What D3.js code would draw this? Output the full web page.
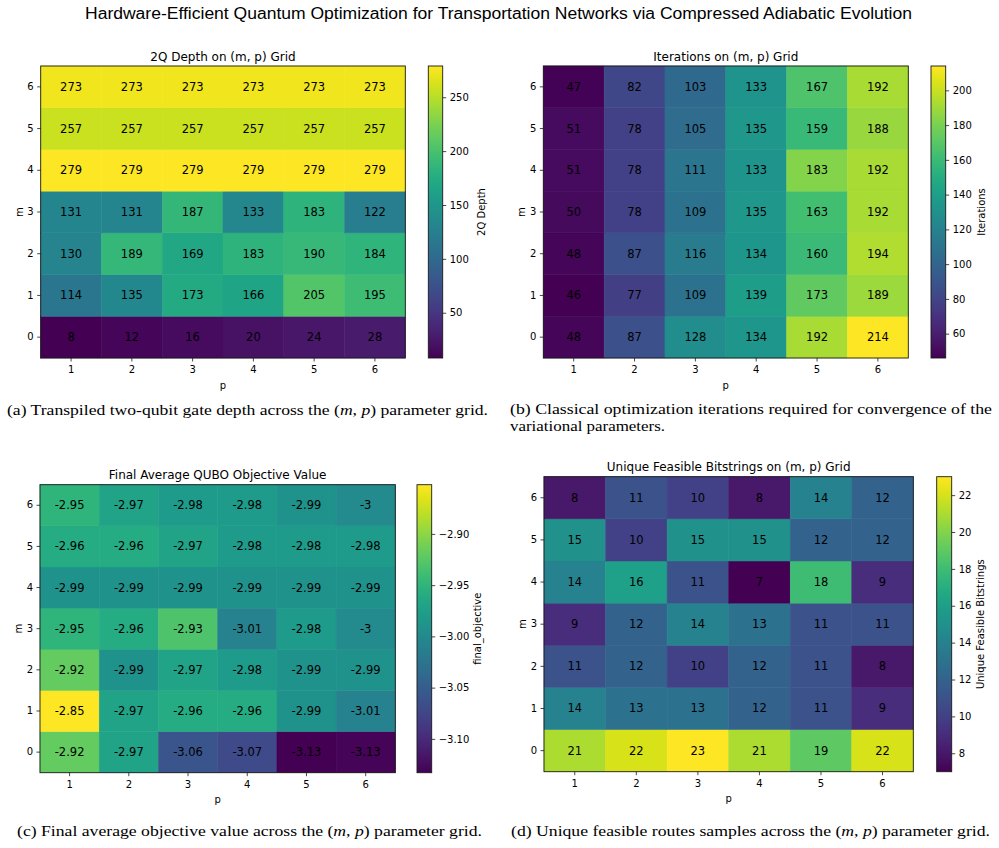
<!DOCTYPE html>
<html>
<head>
<meta charset="utf-8">
<script src="https://cdn.jsdelivr.net/npm/d3@7"></script>
<style>
  body { margin: 0; background: #fff; }
  svg text { font-family: "DejaVu Sans", sans-serif; fill: #000; }
  .caption { font-family: "Liberation Serif", "Times New Roman", serif; }
</style>
</head>
<body>
<svg id="fig" width="999" height="848"></svg>
<script>
// grid axes
const pValues = [1, 2, 3, 4, 5, 6];
const mValues = [0, 1, 2, 3, 4, 5, 6];

// every table: one row per m (m = 0 first), one column per p = 1..6
const depth = [
  [8, 12, 16, 20, 24, 28],
  [114, 135, 173, 166, 205, 195],
  [130, 189, 169, 183, 190, 184],
  [131, 131, 187, 133, 183, 122],
  [279, 279, 279, 279, 279, 279],
  [257, 257, 257, 257, 257, 257],
  [273, 273, 273, 273, 273, 273]
];

const iterations = [
  [48, 87, 128, 134, 192, 214],
  [46, 77, 109, 139, 173, 189],
  [48, 87, 116, 134, 160, 194],
  [50, 78, 109, 135, 163, 192],
  [51, 78, 111, 133, 183, 192],
  [51, 78, 105, 135, 159, 188],
  [47, 82, 103, 133, 167, 192]
];

const finalObjective = [
  [-2.92, -2.97, -3.06, -3.07, -3.133, -3.13],
  [-2.852, -2.97, -2.96, -2.96, -2.99, -3.01],
  [-2.92, -2.99, -2.97, -2.98, -2.99, -2.99],
  [-2.95, -2.96, -2.93, -3.01, -2.98, -3.00],
  [-2.99, -2.99, -2.99, -2.99, -2.99, -2.99],
  [-2.96, -2.96, -2.97, -2.98, -2.98, -2.98],
  [-2.95, -2.97, -2.98, -2.98, -2.99, -3.00]
];

const uniqueFeasible = [
  [21, 22, 23, 21, 19, 22],
  [14, 13, 13, 12, 11, 9],
  [11, 12, 10, 12, 11, 8],
  [9, 12, 14, 13, 11, 11],
  [14, 16, 11, 7, 18, 9],
  [15, 10, 15, 15, 12, 12],
  [8, 11, 10, 8, 14, 12]
];

// colorbar tick values
const depthTicks = [50, 100, 150, 200, 250];
const iterationTicks = [60, 80, 100, 120, 140, 160, 180, 200];
const objectiveTicks = [-3.10, -3.05, -3.00, -2.95, -2.90];
const feasibleTicks = [8, 10, 12, 14, 16, 18, 20, 22];

const svg = d3.select('#fig');
const defs = svg.append('defs');

function drawHeatmap(cfg) {
  const g = svg.append('g');

  const x = d3.scaleBand().domain(pValues).range([cfg.left, cfg.right]);
  const y = d3.scaleBand().domain(mValues).range([cfg.bottom, cfg.top]);
  const ext = d3.extent(cfg.values.flat());
  const color = d3.scaleSequential(d3.interpolateViridis).domain(ext);

  const cells = mValues.flatMap(m => pValues.map((p, i) => ({ m: m, p: p, v: cfg.values[m][i] })));

  g.selectAll('rect.cell')
    .data(cells)
    .enter().append('rect')
    .attr('class', 'cell')
    .attr('x', d => x(d.p))
    .attr('y', d => y(d.m))
    .attr('width', x.bandwidth())
    .attr('height', y.bandwidth())
    .attr('fill', d => color(d.v))
    .attr('stroke', d => color(d.v))
    .attr('stroke-width', 0.5);

  g.selectAll('text.val')
    .data(cells)
    .enter().append('text')
    .attr('class', 'val')
    .attr('x', d => x(d.p) + x.bandwidth() / 2)
    .attr('y', d => y(d.m) + y.bandwidth() / 2)
    .attr('text-anchor', 'middle')
    .attr('dominant-baseline', 'central')
    .style('font-size', '11.5px')
    .text(d => cfg.fmt(d.v));

  // frame
  g.append('rect')
    .attr('x', cfg.left).attr('y', cfg.top)
    .attr('width', cfg.right - cfg.left).attr('height', cfg.bottom - cfg.top)
    .attr('fill', 'none').attr('stroke', '#1a1a1a').attr('stroke-width', 0.9);

  const xAxis = g.append('g')
    .attr('transform', `translate(0,${cfg.bottom})`)
    .call(d3.axisBottom(x).tickSize(3.5).tickPadding(4.8));
  const yAxis = g.append('g')
    .attr('transform', `translate(${cfg.left},0)`)
    .call(d3.axisLeft(y).tickSize(3.5).tickPadding(3.5));
  [xAxis, yAxis].forEach(a => {
    a.select('.domain').remove();
    a.selectAll('line').attr('stroke', '#1a1a1a').attr('stroke-width', 0.8);
    a.selectAll('text').style('font-size', '10px').attr('font-family', null);
  });

  g.append('text')
    .attr('x', (cfg.left + cfg.right) / 2)
    .attr('y', cfg.top - 5.5)
    .attr('text-anchor', 'middle')
    .style('font-size', '12px')
    .text(cfg.title);

  g.append('text')
    .attr('x', (cfg.left + cfg.right) / 2)
    .attr('y', cfg.bottom + 27)
    .attr('text-anchor', 'middle')
    .attr('dominant-baseline', 'central')
    .style('font-size', '10px')
    .text('p');

  g.append('text')
    .attr('transform', `translate(${cfg.left - 21.5},${(cfg.top + cfg.bottom) / 2}) rotate(-90)`)
    .attr('text-anchor', 'middle')
    .attr('dominant-baseline', 'central')
    .style('font-size', '10px')
    .text('m');

  // colorbar
  const gradId = 'grad-' + cfg.id;
  const grad = defs.append('linearGradient')
    .attr('id', gradId)
    .attr('x1', 0).attr('y1', 1).attr('x2', 0).attr('y2', 0);
  d3.range(0, 1.0001, 0.05).forEach(t => {
    grad.append('stop').attr('offset', t).attr('stop-color', d3.interpolateViridis(t));
  });

  const cb = d3.scaleLinear().domain(ext).range([cfg.bottom, cfg.top]);
  g.append('rect')
    .attr('x', cfg.cbLeft).attr('y', cfg.top)
    .attr('width', cfg.cbWidth).attr('height', cfg.bottom - cfg.top)
    .attr('fill', `url(#${gradId})`)
    .attr('stroke', '#1a1a1a').attr('stroke-width', 0.9);

  const cbAxis = g.append('g')
    .attr('transform', `translate(${cfg.cbLeft + cfg.cbWidth},0)`)
    .call(d3.axisRight(cb).tickValues(cfg.ticks).tickSize(3.5).tickPadding(3.5).tickFormat(cfg.tickFmt));
  cbAxis.select('.domain').remove();
  cbAxis.selectAll('line').attr('stroke', '#1a1a1a').attr('stroke-width', 0.8);
  cbAxis.selectAll('text').style('font-size', '10px').attr('font-family', null);

  g.append('text')
    .attr('transform', `translate(${cfg.cbLeft + cfg.cbWidth + cfg.cbLabelDx},${(cfg.top + cfg.bottom) / 2}) rotate(-90)`)
    .attr('text-anchor', 'middle')
    .attr('dominant-baseline', 'central')
    .style('font-size', '10px')
    .text(cfg.label);
}

const intFmt = d3.format('d');
const objFmt = v => d3.format('.3~g')(v).replace('\u2212', '-');

drawHeatmap({
  id: 'a', values: depth, fmt: intFmt, ticks: depthTicks, tickFmt: intFmt,
  title: '2Q Depth on (m, p) Grid', label: '2Q Depth',
  left: 40.7, right: 405.3, top: 66, bottom: 358,
  cbLeft: 428.3, cbWidth: 14.4, cbLabelDx: 39
});

drawHeatmap({
  id: 'b', values: iterations, fmt: intFmt, ticks: iterationTicks, tickFmt: intFmt,
  title: 'Iterations on (m, p) Grid', label: 'Iterations',
  left: 543.3, right: 908.3, top: 66, bottom: 358,
  cbLeft: 931, cbWidth: 14.7, cbLabelDx: 35.3
});

drawHeatmap({
  id: 'c', values: finalObjective, fmt: objFmt, ticks: objectiveTicks, tickFmt: d3.format('.2f'),
  title: 'Final Average QUBO Objective Value', label: 'final_objective',
  left: 40, right: 395.3, top: 484.7, bottom: 772.7,
  cbLeft: 417, cbWidth: 14.7, cbLabelDx: 45.6
});

drawHeatmap({
  id: 'd', values: uniqueFeasible, fmt: intFmt, ticks: feasibleTicks, tickFmt: intFmt,
  title: 'Unique Feasible Bitstrings on (m, p) Grid', label: 'Unique Feasible Bitstrings',
  left: 544, right: 913.3, top: 476.7, bottom: 771.7,
  cbLeft: 936.7, cbWidth: 15, cbLabelDx: 28.3
});

// figure title
svg.append('text')
  .attr('x', 498.5)
  .attr('y', 19)
  .attr('text-anchor', 'middle')
  .style('font-family', '"Liberation Sans", sans-serif')
  .style('font-size', '16px')
  .attr('textLength', 827)
  .attr('lengthAdjust', 'spacingAndGlyphs')
  .text('Hardware-Efficient Quantum Optimization for Transportation Networks via Compressed Adiabatic Evolution');

// sub-captions: each line is a list of [text, italic] pieces, w = rendered width
const captions = [
  { x: 7, y: 415, lines: [{ w: 481, parts: [['(a) Transpiled two-qubit gate depth across the (', 0], ['m', 1], [', ', 0], ['p', 1], [') parameter grid.', 0]] }] },
  { x: 510, y: 414, lines: [{ w: 482, parts: [['(b) Classical optimization iterations required for convergence of the', 0]] },
                            { w: 155, parts: [['variational parameters.', 0]] }] },
  { x: 17, y: 836, lines: [{ w: 465, parts: [['(c) Final average objective value across the (', 0], ['m', 1], [', ', 0], ['p', 1], [') parameter grid.', 0]] }] },
  { x: 511, y: 836, lines: [{ w: 479, parts: [['(d) Unique feasible routes samples across the (', 0], ['m', 1], [', ', 0], ['p', 1], [') parameter grid.', 0]] }] }
];

captions.forEach(c => {
  c.lines.forEach((line, li) => {
    const t = svg.append('text')
      .attr('class', 'caption')
      .attr('x', c.x)
      .attr('y', c.y + li * 17)
      .style('font-size', '15.5px');
    line.parts.forEach(part => {
      t.append('tspan')
        .style('font-style', part[1] ? 'italic' : 'normal')
        .text(part[0]);
    });
    // squeeze to the width measured on the reference
    if (line.w) t.attr('textLength', line.w).attr('lengthAdjust', 'spacingAndGlyphs');
  });
});
</script>
</body>
</html>
